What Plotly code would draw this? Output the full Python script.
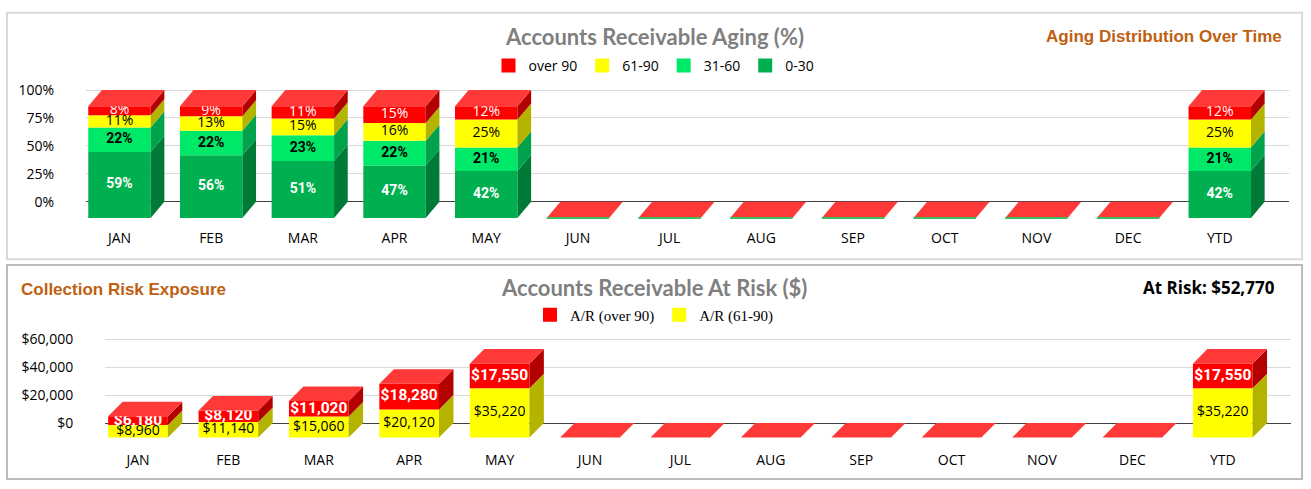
import plotly.graph_objects as go

months = ["JAN", "FEB", "MAR", "APR", "MAY", "JUN", "JUL",
          "AUG", "SEP", "OCT", "NOV", "DEC", "YTD"]

# aging split in percent (stack order: bottom -> top)
pct_0_30 = [59, 56, 51, 47, 42, 0, 0, 0, 0, 0, 0, 0, 42]
pct_31_60 = [22, 22, 23, 22, 21, 0, 0, 0, 0, 0, 0, 0, 21]
pct_61_90 = [11, 13, 15, 16, 25, 0, 0, 0, 0, 0, 0, 0, 25]
pct_over_90 = [8, 9, 11, 15, 12, 0, 0, 0, 0, 0, 0, 0, 12]

# dollars at risk
risk_61_90 = [8960, 11140, 15060, 20120, 35220, 0, 0, 0, 0, 0, 0, 0, 35220]
risk_over_90 = [6180, 8120, 11020, 18280, 17550, 0, 0, 0, 0, 0, 0, 0, 17550]

pct_ticks = [0, 25, 50, 75, 100]
risk_ticks = [0, 20000, 40000, 60000]

at_risk = risk_61_90[-1] + risk_over_90[-1]

W, H = 1311, 489
idx = list(range(len(months)))
XR = [-0.365, 12.755]

ORANGE = "#BF6010"
GREY = "#7F7F7F"


def fx(px):
    return px / W


def fy(px):
    return 1 - px / H


fig = go.Figure()


def add_stack(xa, ya, series, w, dx, depth, legend, floor_depth, floor_shift, yr):
    base = [0] * len(idx)
    for name, vals, front, side, font in series:
        fig.add_bar(x=idx, y=vals, base=[b - depth for b in base], width=w,
                    marker=dict(color=front, line=dict(width=0)), name=name,
                    showlegend=False, xaxis=xa, yaxis=ya, hoverinfo="skip")
        sx, sy = [], []
        lx, ly, lt = [], [], []
        for i, v in enumerate(vals):
            if v <= 0:
                continue
            b, t = base[i], base[i] + v
            r = i + w / 2
            sx += [r, r + dx, r + dx, r, r, None]
            sy += [b - depth, b, t, t - depth, b - depth, None]
            lx.append(i)
            ly.append(b + v / 2 - depth)
            lt.append(font[3](v))
        fig.add_scatter(x=sx, y=sy, fill="toself", fillcolor=side, mode="lines",
                        line=dict(width=0), showlegend=False, hoverinfo="skip",
                        xaxis=xa, yaxis=ya)
        fig.add_scatter(x=lx, y=ly, text=lt, mode="text", showlegend=False,
                        hoverinfo="skip", cliponaxis=False, xaxis=xa, yaxis=ya,
                        textfont=dict(family=font[0], size=font[1], color=font[2],
                                      weight=font[4]))
        base = [b + v for b, v in zip(base, vals)]

    # top face, coloured like the top series
    tx, ty = [], []
    for i, t in enumerate(base):
        l, r = i - w / 2, i + w / 2
        tx += [l, r, r + dx, l + dx, l, None]
        ty += [t - depth, t - depth, t, t, t - depth, None]
    fig.add_scatter(x=tx, y=ty, fill="toself", fillcolor="#FF3838", mode="lines",
                    line=dict(width=0), showlegend=False, hoverinfo="skip",
                    xaxis=xa, yaxis=ya)

    # floor under the bars
    span = XR[1] - XR[0]
    y0 = (0 - yr[0]) / (yr[1] - yr[0])
    y1 = (-floor_depth - yr[0]) / (yr[1] - yr[0])
    s = floor_shift / span
    fig.add_shape(type="path", xref=xa + " domain", yref=ya + " domain", layer="below",
                  path=f"M0,{y0} L1,{y0} L{1 + s},{y1} L{s},{y1} Z",
                  fillcolor="#EBEBEB", line=dict(width=0))

    # legend entries, top series first
    for name, vals, front, side, font in reversed(series):
        fig.add_scatter(x=[None], y=[None], mode="markers", name=name, legend=legend,
                        marker=dict(symbol="square", size=14, color=front),
                        xaxis=xa, yaxis=ya, hoverinfo="skip")


def pct_fmt(v):
    return f"{v}%"


def usd_fmt(v):
    return f"${v:,}"


aging_series = [
    ("0-30", pct_0_30, "#00B050", "#007A37", ("Roboto", 14, "white", pct_fmt, 700)),
    ("31-60", pct_31_60, "#00E868", "#00A34C", ("Roboto", 14, "black", pct_fmt, 700)),
    ("61-90", pct_61_90, "#FFFF00", "#B3B300", ("Open Sans", 14, "black", pct_fmt, 400)),
    ("over 90", pct_over_90, "#FF0000", "#B30000", ("Open Sans", 14, "white", pct_fmt, 400)),
]
risk_series = [
    ("A/R (61-90)", risk_61_90, "#FFFF00", "#B3B300", ("Open Sans", 14, "black", usd_fmt, 400)),
    ("A/R (over 90)", risk_over_90, "#FF0000", "#B30000", ("Roboto", 15.5, "white", usd_fmt, 700)),
]

YR1 = [-19, 102]
YR2 = [-15500, 62000]

add_stack("x", "y", aging_series, 0.681, 0.149, 14.5, "legend", 18.2, -0.207, YR1)
add_stack("x2", "y2", risk_series, 0.66, 0.16, 10400, "legend2", 14800, -0.22, YR2)

# thin front edge on the empty months of the aging chart
ex, ey = [], []
for i in idx:
    if pct_0_30[i] + pct_31_60[i] + pct_61_90[i] + pct_over_90[i] == 0:
        ex += [i - 0.681 / 2, i + 0.681 / 2, None]
        ey += [-14.5, -14.5, None]
fig.add_scatter(x=ex, y=ey, mode="lines", line=dict(color="#3CBF5F", width=2),
                showlegend=False, hoverinfo="skip", xaxis="x", yaxis="y")

tick_font = dict(family="Open Sans", size=14, color="black")
x_ticks = dict(ticks="outside", ticklen=2, tickcolor="rgba(0,0,0,0)")
y_ticks = dict(ticks="outside", ticklen=28, tickcolor="rgba(0,0,0,0)")

fig.update_layout(
    width=W, height=H,
    margin=dict(l=0, r=0, t=0, b=0, autoexpand=False),
    paper_bgcolor="white", plot_bgcolor="rgba(0,0,0,0)",
    barmode="overlay",
    xaxis=dict(domain=[fx(86), fx(1289)], range=XR, tickvals=idx, ticktext=months,
               showgrid=False, zeroline=False, showline=False, tickfont=tick_font,
               anchor="y", fixedrange=True, automargin=False, **x_ticks),
    yaxis=dict(domain=[fy(222.9), fy(87.8)], range=YR1, tickvals=pct_ticks,
               ticktext=[f"{t}%" for t in pct_ticks], gridcolor="#D9D9D9",
               zeroline=True, zerolinecolor="#404040", zerolinewidth=1,
               tickfont=tick_font, anchor="x", fixedrange=True, automargin=False,
               **y_ticks),
    xaxis2=dict(domain=[fx(105), fx(1291)], range=XR, tickvals=idx, ticktext=months,
                showgrid=False, zeroline=False, showline=False, tickfont=tick_font,
                anchor="y2", fixedrange=True, automargin=False, **x_ticks),
    yaxis2=dict(domain=[fy(444.7), fy(336.2)], range=YR2, tickvals=risk_ticks,
                ticktext=[f"${t:,}" for t in risk_ticks], gridcolor="#D9D9D9",
                zeroline=True, zerolinecolor="#404040", zerolinewidth=1,
                tickfont=tick_font, anchor="x2", fixedrange=True, automargin=False,
                **y_ticks),
    legend=dict(orientation="h", x=fx(654), xanchor="center", y=fy(66), yanchor="middle",
                font=dict(family="Open Sans", size=14, color="black"),
                bgcolor="rgba(0,0,0,0)", itemwidth=30),
    legend2=dict(orientation="h", x=fx(654), xanchor="center", y=fy(315), yanchor="middle",
                 font=dict(family="Liberation Serif", size=15, color="black"),
                 bgcolor="rgba(0,0,0,0)", itemwidth=30),
    showlegend=True,
)

# panel frames
fig.add_shape(type="rect", xref="paper", yref="paper", layer="below",
              x0=fx(7), x1=fx(1302), y0=fy(259.3), y1=fy(12.7),
              line=dict(color="#D9D9D9", width=2), fillcolor="white")
fig.add_shape(type="rect", xref="paper", yref="paper", layer="below",
              x0=fx(7), x1=fx(1302), y0=fy(479), y1=fy(265),
              line=dict(color="#A6A6A6", width=1.5), fillcolor="white")

# titles
fig.add_annotation(text="Accounts Receivable Aging (%)", xref="paper", yref="paper",
                   x=fx(654), y=fy(37), showarrow=False, xanchor="center", yanchor="middle",
                   font=dict(family="Lato", size=22, color=GREY, weight=700))
fig.add_annotation(text="Aging Distribution Over Time", xref="paper", yref="paper",
                   x=fx(1284), y=fy(36), showarrow=False, xanchor="right", yanchor="middle",
                   font=dict(family="Liberation Sans", size=17, color=ORANGE, weight=700))
fig.add_annotation(text="Accounts Receivable At Risk ($)", xref="paper", yref="paper",
                   x=fx(654), y=fy(287), showarrow=False, xanchor="center", yanchor="middle",
                   font=dict(family="Lato", size=22, color=GREY, weight=700))
fig.add_annotation(text="Collection Risk Exposure", xref="paper", yref="paper",
                   x=fx(19), y=fy(289), showarrow=False, xanchor="left", yanchor="middle",
                   font=dict(family="Liberation Sans", size=17, color=ORANGE, weight=700))
fig.add_annotation(text=f"At Risk: ${at_risk:,}", xref="paper", yref="paper",
                   x=fx(1277), y=fy(287), showarrow=False, xanchor="right", yanchor="middle",
                   font=dict(family="Open Sans", size=17, color="black", weight=700))

# the page body has a default margin; drop it so the figure sits at the corner
fig.write_html("out.html", config={"displayModeBar": False},
               post_script="document.body.style.margin = '0';")
